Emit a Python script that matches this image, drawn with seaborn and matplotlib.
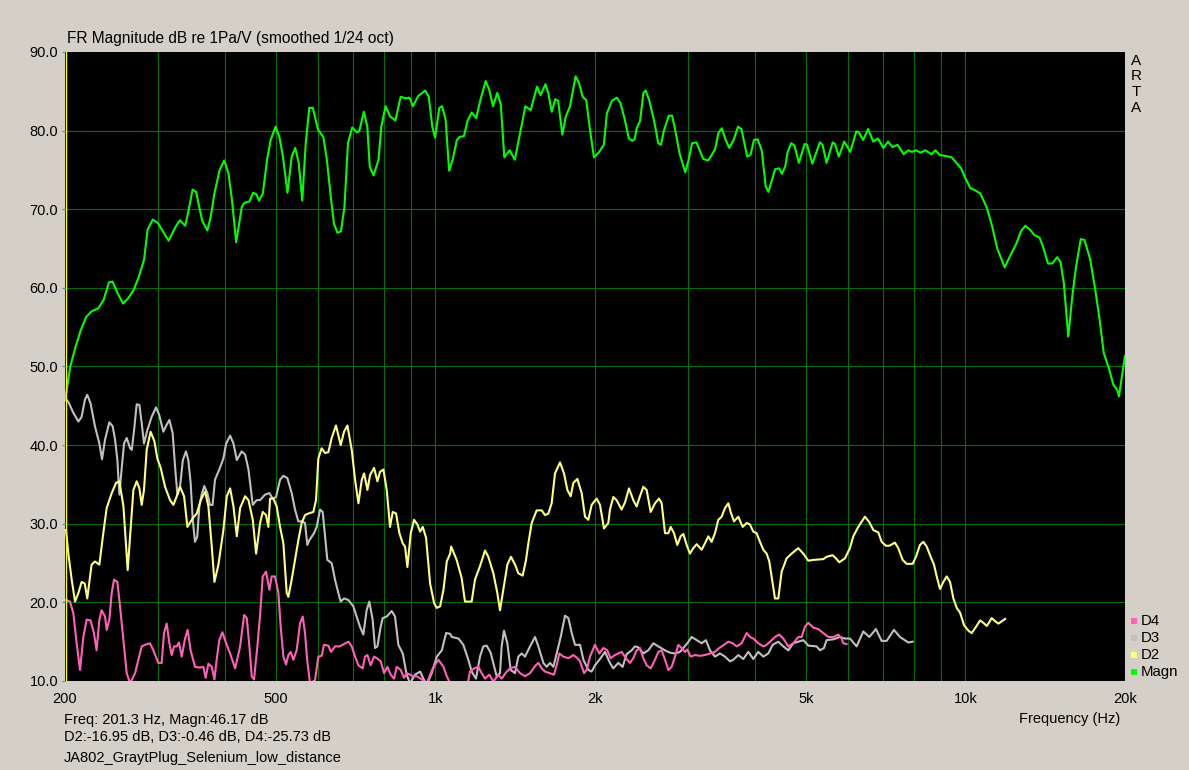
import matplotlib
matplotlib.use('Agg')
import matplotlib.pyplot as plt
from matplotlib.patches import Rectangle
from matplotlib.ticker import FixedLocator, NullFormatter
import seaborn as sns

# ---- data ----
magn_hz = [200, 201.5, 204.6, 209.4, 214.1, 219.3, 224.3, 231.2, 236.6, 242.1, 245.9, 251.5, 257.3, 263.3,
           269.4, 275.6, 282.0, 286.3, 292.9, 299.7, 313.7, 323.5, 329.5, 337.1, 341.3, 348.1, 353.5, 362.8,
           371.2, 376.9, 382.7, 391.6, 399.4, 406.8, 413.1, 420.7, 431.1, 435.7, 445.8, 452.7, 459.6, 464.5,
           472.4, 481.2, 488.6, 499.2, 507.6, 515.4, 525.8, 535.5, 543.8, 552.1, 560.6, 569.2, 578.0, 586.9,
           600.5, 614.4, 623.9, 633.6, 643.3, 653.2, 663.3, 673.4, 683.8, 696.5, 710.4, 718.0, 732.5, 743.7,
           751.6, 764.3, 780.8, 790.4, 805.1, 821.2, 840.2, 859.7, 879.6, 893.1, 906.9, 927.8, 956.6, 971.3,
           986.3, 998.4, 1016.7, 1029.2, 1045.1, 1061.2, 1077.5, 1097.5, 1111, 1131.6, 1149, 1170.1, 1193.7,
           1215.6, 1243.8, 1263, 1284.4, 1308.1, 1328.3, 1348.6, 1379.9, 1411.8, 1444.6, 1478, 1512.3, 1554.6,
           1578.4, 1612.6, 1632.4, 1657.4, 1683.1, 1703.8, 1735.1, 1761.9, 1794.3, 1838.6, 1867.1, 1895.7,
           1924.9, 1960.7, 1990.8, 2037, 2078, 2106, 2153, 2200, 2233, 2273, 2317, 2351, 2376, 2397, 2432,
           2468, 2493, 2530, 2587, 2632, 2664, 2695, 2755, 2796, 2833, 2888, 2960, 3004, 3049, 3108, 3200,
           3271, 3369, 3419, 3469, 3520, 3583, 3652, 3723, 3778, 3874, 3930, 3989, 4054, 4126, 4199, 4249,
           4312, 4376, 4454, 4506, 4572, 4620, 4689, 4758, 4849, 4972, 5024, 5143, 5312, 5375, 5470, 5616,
           5675, 5767, 5904, 6062, 6225, 6288, 6410, 6553, 6699, 6838, 7001, 7146, 7284, 7446, 7644, 7804,
           7920, 8071, 8227, 8399, 8623, 8777, 8946, 9146, 9418, 9557, 9814, 9987, 10210, 10438, 10669,
           10988, 11231, 11482, 11859, 12088, 12449, 12727, 12969, 13241, 13496, 13795, 14000, 14312, 14588,
           14890, 15111, 15333, 15629, 15931, 16168, 16503, 16771, 17197, 17581, 17916, 18237, 18644, 19004,
           19340, 19483, 19773, 19990]
magn_db = [45.7, 47.0, 50.0, 52.5, 54.6, 56.3, 57.0, 57.4, 58.5, 60.7, 60.8, 59.3, 58.0, 58.7,
           59.7, 61.4, 63.6, 67.4, 68.7, 68.2, 66.0, 67.8, 68.6, 67.9, 69.5, 72.5, 72.2, 68.6,
           67.3, 69.1, 72.0, 75.0, 76.2, 74.6, 71.2, 65.8, 70.3, 70.8, 71.0, 72.1, 71.9, 71.1,
           72.0, 76.3, 78.8, 80.5, 79.2, 76.7, 72.1, 76.7, 77.8, 75.9, 71.1, 78.4, 82.9, 82.9,
           80.1, 79.2, 76.3, 72.0, 68.2, 67.0, 67.2, 70.3, 78.4, 80.4, 79.8, 79.9, 82.4, 80.5,
           75.4, 74.3, 76.3, 80.5, 83.1, 81.8, 81.3, 84.3, 84.1, 84.2, 83.1, 84.4, 85.1, 84.3,
           80.5, 79.1, 82.9, 83.1, 81.4, 74.9, 76.3, 78.8, 79.2, 79.3, 81.2, 82.3, 81.6,
           83.9, 86.3, 85.2, 83.1, 84.8, 83.3, 76.6, 77.5, 76.3, 79.7, 83.1, 82.6, 85.6,
           84.5, 85.9, 84.8, 82.4, 84.0, 83.8, 79.5, 81.8, 83.1, 86.9, 86.0, 84.3,
           83.9, 79.7, 76.6, 77.3, 78.2, 82.2, 83.8, 84.2, 83.5, 81.6, 79.0, 78.7, 78.9, 80.3, 81.2,
           84.8, 85.1, 83.9, 81.2, 78.4, 78.2, 79.9, 81.9, 81.9, 80.1, 77.1, 74.7, 76.3, 78.4, 78.5, 76.4,
           76.2, 77.6, 79.7, 80.3, 79.0, 77.8, 78.8, 80.5, 80.2, 76.7, 76.9, 78.8, 78.9, 77.5, 72.9, 72.2,
           73.7, 75.1, 75.2, 74.5, 75.5, 77.3, 78.4, 78.1, 75.9, 78.3, 78.2, 75.8, 78.5, 78.2, 75.9, 78.5,
           78.3, 76.7, 78.6, 77.3, 79.9, 79.8, 78.8, 80.2, 78.6, 79.0, 77.8, 78.6, 77.9, 78.2, 77.0, 77.5,
           77.3, 77.5, 77.2, 77.5, 77.0, 77.5, 76.9, 76.8, 76.6, 76.1, 75.2, 74.0, 72.7, 72.4, 72.0,
           70.1, 67.8, 65.0, 62.6, 63.8, 65.5, 67.2, 67.9, 67.4, 66.7, 66.4, 65.3, 63.1, 63.1,
           63.9, 63.3, 60.6, 53.8, 59.3, 62.7, 66.2, 66.1, 63.6, 59.7, 55.9, 51.7, 49.8, 47.7,
           47.0, 46.2, 49.1, 51.3]

d2_hz = [200.9, 202.9, 205.9, 208.9, 212.0, 215.0, 217.9, 220.3, 224.5, 227.8, 232.2, 236.2, 239.7, 245.0,
         249.7, 253.3, 257.8, 262.6, 266.1, 269.2, 273.1, 276.3, 279.1, 281.9, 285.2, 290.1, 294.9, 298.7,
         303.1, 308.9, 315.7, 320.3, 325.0, 329.7, 335.5, 340.4, 348.4, 354.5, 360.7, 367.6, 372.9, 378.4,
         382.8, 389.5, 398.0, 403.9, 409.8, 415.8, 421.9, 428.0, 437.4, 443.8, 452.2, 458.8, 466.8, 472.2,
         479.0, 483.9, 487.4, 494.5, 501.7, 509.1, 516.5, 524.0, 527.8, 535.5, 543.3, 551.2, 559.2, 567.4,
         575.6, 588.3, 595.1, 601.2, 609.9, 618.9, 627.9, 637.0, 649.2, 662.5, 672.2, 682.1, 695.1, 705.2,
         715.6, 726.1, 733.5, 744.1, 752.8, 765.9, 777.1, 786.1, 797.6, 809.2, 821.0, 830.6, 842.7, 855.0,
         867.5, 876.3, 885.2, 898.2, 911.3, 924.6, 935.4, 946.3, 960.1, 977.0, 994.2, 1005.9, 1020.5,
         1035.4, 1050.5, 1065.8, 1070.5, 1096.5, 1120.5, 1136.9, 1170.3, 1187.5, 1213.5, 1240.3, 1258.2,
         1286.0, 1308.4, 1323.7, 1342.9, 1366.6, 1388.5, 1413.0, 1433.4, 1460.7, 1482.1, 1497.2, 1519.0,
         1552.3, 1586.5, 1609.7, 1632.9, 1656.7, 1681.0, 1718.1, 1748.0, 1773.6, 1799.5, 1820.4, 1852.5,
         1887.4, 1915.0, 1943.0, 1971.3, 2014.5, 2043.9, 2079.7, 2118.9, 2134.3, 2165.4, 2197.1, 2245.1,
         2277.9, 2318.2, 2362.0, 2396.5, 2431.5, 2467.1, 2503.2, 2547.0, 2595.5, 2641.3, 2671.9, 2710.9,
         2750.5, 2778.5, 2819.1, 2859.6, 2901.4, 2935.7, 2978.6, 3021.4, 3065.5, 3110.3, 3179.1, 3224.8,
         3271.9, 3319.7, 3368.2, 3417.4, 3467.3, 3518.0, 3569.4, 3605.8, 3658.5, 3727.4, 3798.4, 3865.4,
         3921.9, 3978.2, 4036.3, 4095.3, 4155.1, 4215.8, 4264.6, 4327.0, 4371.0, 4434.8, 4499.6, 4598.1,
         4699.2, 4836.4, 4943.5, 5051.7, 5162.3, 5391.9, 5470.7, 5614.9, 5697.0, 5780.2, 5924.4, 6054.0,
         6142.5, 6278.3, 6462.0, 6585.2, 6701.4, 6848.2, 6947.8, 7080.2, 7182.0, 7361.2, 7468.8, 7610.8,
         7745.4, 7949.4, 8065.6, 8206.6, 8327, 8449, 8598, 8723, 8826, 8954, 9084, 9217, 9352, 9489,
         9627, 9768, 9939, 10128, 10276, 10472, 10656, 10811, 10970, 11210, 11374, 11541, 11709, 11881]
d2_db = [29.2, 26.2, 22.9, 20.1, 21.2, 22.6, 22.4, 20.5, 24.8, 25.2, 24.8, 28.8, 32.0, 33.9,
         35.2, 35.4, 32.2, 24.1, 29.6, 34.3, 35.4, 34.5, 32.4, 34.3, 39.4, 41.7, 40.5, 38.3,
         37.1, 34.7, 33.0, 32.4, 33.5, 34.7, 33.5, 29.6, 30.7, 31.3, 33.0, 34.1, 32.2, 27.1,
         22.6, 24.8, 29.2, 33.5, 34.5, 32.2, 28.4, 32.0, 33.5, 33.0, 30.5, 26.2, 30.1, 31.5,
         31.1, 29.6, 33.2, 33.2, 32.2, 29.6, 27.5, 21.2, 20.7, 22.9, 25.4, 27.9, 30.1, 31.1,
         31.3, 31.5, 33.0, 38.3, 39.6, 39.0, 39.1, 40.9, 42.5, 40.0, 41.7, 42.5, 39.4, 35.6,
         32.6, 35.6, 36.4, 34.3, 36.2, 37.1, 35.4, 36.6, 36.9, 34.3, 29.6, 31.5, 31.3, 28.8,
         27.5, 27.1, 24.5, 28.8, 30.5, 29.9, 29.0, 29.6, 28.2, 22.4, 19.9, 19.3, 19.5,
         21.6, 25.2, 26.2, 27.1, 25.4, 23.1, 20.1, 20.1, 22.9, 24.6, 26.6, 25.8,
         23.7, 21.2, 19.0, 21.6, 24.8, 25.8, 24.8, 23.7, 23.4, 25.4, 27.5, 30.1,
         31.7, 31.7, 31.1, 31.3, 32.6, 36.4, 37.8, 36.4, 34.3, 33.5, 35.2, 35.7,
         33.9, 30.9, 30.5, 32.4, 33.2, 32.4, 29.4, 30.1, 31.8, 33.4, 33.0, 31.8,
         32.7, 34.5, 33.0, 32.2, 33.5, 34.7, 34.3, 31.5, 32.6, 33.2, 32.6, 28.8,
         28.8, 29.6, 28.8, 27.3, 28.4, 28.7, 27.3, 26.2, 26.9, 27.4, 26.7, 27.5,
         28.4, 27.7, 28.8, 30.5, 30.9, 32.0, 32.6, 31.5, 30.3, 30.9, 29.6, 30.1,
         29.9, 29.0, 28.8, 27.7, 26.7, 26.2, 25.2, 22.4, 20.5, 20.5, 23.9, 25.6,
         26.2, 26.9, 26.2, 25.3, 25.4, 25.5, 25.8, 26.0, 25.6, 25.1, 25.6, 26.9,
         28.4, 29.6, 30.9, 30.2, 29.2, 28.9, 27.7, 27.2, 27.2, 27.6, 26.9, 25.4,
         24.9, 24.9, 25.8, 27.3, 27.7, 27.1, 25.8, 24.8, 23.3, 21.7, 22.6, 23.3, 22.6, 20.5,
         19.3, 18.7, 17.1, 16.4, 16.1, 16.9, 17.7, 17.4, 17.0, 18.0, 17.6, 17.3, 17.6, 17.9]

d3_hz = [200.9, 202.9, 207.4, 212.0, 215.0, 218.1, 220.3, 223.5, 227.8, 232.2, 234.9, 238.0, 242.5, 246.0,
         248.6, 251.1, 253.3, 255.9, 258.5, 261.5, 265.4, 267.3, 270.0, 273.1, 276.3, 279.1, 281.9, 286.0,
         291.4, 297.0, 301.3, 306.6, 311.1, 314.8, 319.3, 322.6, 325.9, 329.7, 333.7, 338.3, 341.7, 345.2,
         348.4, 351.8, 355.3, 358.5, 362.1, 366.3, 371.2, 375.4, 379.8, 383.7, 391.0, 398.0, 402.8, 409.8,
         415.8, 421.9, 430.9, 437.4, 443.8, 452.2, 459.8, 466.8, 476.9, 486.0, 493.1, 500.3, 509.1, 516.5,
         525.6, 535.5, 543.3, 551.2, 559.2, 567.4, 573.1, 578.2, 590.0, 596.9, 605.7, 612.7, 618.9, 625.2,
         637.0, 646.3, 655.8, 662.5, 672.2, 685.1, 699.8, 710.1, 720.4, 731.0, 741.6, 750.3, 761.2, 769.0,
         777.1, 788.3, 795.2, 809.2, 826.8, 838.9, 851.2, 867.5, 882.6, 895.4, 915.1, 935.4, 948.9, 962.8,
         984.0, 1005.9, 1027.9, 1047.5, 1065.8, 1073.6, 1104.9, 1128.8, 1153.6, 1170.3, 1192.6, 1213.5,
         1231.1, 1249.1, 1270.9, 1304.7, 1323.7, 1333.3, 1346.8, 1366.6, 1386.6, 1413.0, 1433.4, 1454.4,
         1475.7, 1508.2, 1541.3, 1563.8, 1598.1, 1621.4, 1645.1, 1669.0, 1693.4, 1723.1, 1755.9, 1781.6,
         1807.6, 1834.0, 1874.2, 1901.6, 1943.0, 1971.3, 2000, 2043.9, 2088.9, 2134.3, 2165.4, 2212.9,
         2255.0, 2294.4, 2344.8, 2379.1, 2413.9, 2467.1, 2521.0, 2576.8, 2633.3, 2710.9, 2770.2, 2831.0,
         2893.3, 2935.7, 2987.2, 3043.9, 3110.3, 3179.1, 3238.9, 3295.6, 3368.2, 3442.2, 3518.0, 3595.0,
         3647.8, 3727.4, 3809.9, 3893.4, 3978.2, 4066.1, 4155.1, 4246.5, 4327.0, 4434.8, 4532.0, 4632.0,
         4733.6, 4836.4, 4943.5, 5051.7, 5237.9, 5314.4, 5408.2, 5470.7, 5631.9, 5797.5, 5924.4, 6054.0,
         6232.2, 6415.4, 6585.2, 6779.2, 6947.8, 7100.5, 7330.0, 7523.8, 7801.9, 7949.4]
d3_db = [45.8, 45.5, 44.1, 43.0, 43.6, 45.8, 46.4, 45.3, 42.4, 40.2, 38.2, 40.7, 42.9, 42.4,
         40.7, 38.1, 33.7, 37.1, 40.2, 40.9, 39.6, 39.4, 41.9, 45.2, 45.1, 42.8, 40.2, 41.9,
         43.6, 44.8, 43.8, 41.7, 42.6, 43.2, 41.5, 37.3, 33.7, 34.7, 38.1, 39.2, 38.1, 35.2,
         30.5, 27.7, 28.4, 32.2, 33.7, 34.8, 33.9, 32.4, 32.4, 35.6, 36.9, 38.3, 40.2, 41.2,
         40.2, 38.1, 39.2, 38.8, 36.9, 32.4, 33.0, 33.0, 33.7, 33.9, 33.2, 33.4, 35.6, 36.1,
         35.8, 33.9, 31.8, 30.3, 30.3, 30.1, 27.3, 27.9, 28.8, 29.6, 31.8, 31.5, 28.4, 25.4,
         25.0, 22.9, 21.2, 20.1, 20.5, 20.3, 19.5, 18.2, 16.9, 15.9, 19.0, 20.1, 17.8, 14.2,
         14.4, 16.9, 18.0, 18.2, 18.9, 18.2, 14.6, 13.5, 10.8, 9.7, 10.8, 11.2, 10.3, 9.5,
         11.0, 13.1, 13.9, 16.1, 16.0, 15.6, 15.4, 14.6, 12.7, 11.2, 10.3, 13.1,
         14.4, 14.5, 13.6, 10.6, 11.0, 14.4, 16.4, 14.8, 11.4, 11.0, 13.1, 13.5,
         13.1, 14.4, 15.6, 14.4, 12.3, 11.8, 12.3, 11.8, 13.5, 15.6, 18.3, 18.0,
         16.1, 14.6, 14.6, 12.7, 11.4, 11.2, 12.0, 12.8, 13.7, 12.3, 11.6, 12.3,
         11.8, 13.4, 13.9, 14.4, 14.3, 13.5, 13.9, 14.8, 14.4, 13.9, 13.6, 13.5,
         13.7, 14.2, 14.8, 15.6, 15.2, 14.8, 15.2, 13.9, 13.1, 13.5, 13.1, 12.5,
         12.7, 13.3, 12.8, 13.7, 12.8, 13.7, 13.1, 13.5, 14.6, 15.0, 14.4, 13.9,
         14.8, 15.0, 15.2, 14.5, 14.4, 13.9, 14.2, 15.2, 15.3, 15.6, 15.4, 15.4,
         14.4, 16.3, 15.6, 16.6, 15.1, 15.1, 16.5, 15.6, 14.9, 15.0]

d4_hz = [200.9, 204.4, 207.4, 210.4, 213.5, 216.6, 219.7, 223.5, 226.8, 229.4, 232.2, 234.5, 238.0, 239.7,
         242.5, 245.0, 247.5, 251.1, 254.0, 258.5, 261.5, 265.4, 271.2, 275.1, 279.1, 283.1, 289.3, 293.6,
         300.0, 304.4, 307.5, 311.1, 314.8, 317.9, 321.2, 325.0, 328.2, 332.1, 336.9, 340.8, 345.2, 351.8,
         359.5, 364.8, 368.5, 372.9, 378.4, 382.8, 386.5, 391.0, 396.3, 402.8, 409.8, 418.8, 428.0, 435.5,
         440.6, 445.6, 450.1, 454.7, 461.3, 466.8, 472.2, 479.0, 486.0, 490.9, 498.1, 505.4, 510.5, 516.5,
         522.5, 527.8, 533.2, 539.3, 547.2, 555.2, 561.7, 567.4, 573.1, 579.9, 592.6, 601.2, 609.9, 616.2,
         627.9, 635.1, 646.3, 658.6, 672.2, 685.1, 695.1, 705.2, 715.6, 728.8, 736.3, 744.1, 754.6, 765.9,
         775.0, 788.3, 800.0, 811.7, 823.4, 835.4, 845.0, 859.8, 872.4, 882.6, 895.4, 908.5, 921.8, 942.0,
         962.8, 988.3, 1012.7, 1035.4, 1050.5, 1065.8, 1080.6, 1145.3, 1162.1, 1182.4, 1205.0, 1222.2,
         1240.3, 1263.8, 1286.0, 1314.1, 1333.3, 1359.0, 1382.5, 1413.0, 1443.9, 1475.7, 1508.2, 1541.3,
         1563.8, 1586.5, 1609.7, 1640.4, 1673.8, 1693.4, 1713.1, 1743.0, 1781.6, 1820.4, 1852.5, 1874.2,
         1907.1, 1928.9, 1957.1, 2000, 2038.2, 2073.9, 2109.6, 2140.6, 2181.0, 2212.9, 2245.1, 2287.9,
         2328.0, 2362.0, 2396.5, 2431.5, 2467.1, 2503.2, 2547.0, 2595.5, 2633.3, 2671.9, 2710.9, 2750.5,
         2790.6, 2831.0, 2872.2, 2913.9, 2956.5, 2987.2, 3030.2, 3088.0, 3155.8, 3224.8, 3295.6, 3368.2,
         3432.3, 3502.6, 3569.4, 3637.1, 3701.2, 3782.2, 3865.4, 3921.9, 3978.2, 4066.1, 4155.1, 4215.8,
         4277.1, 4371.0, 4454.2, 4532.0, 4632.0, 4733.6, 4836.4, 4907.2, 4979.1, 5051.7, 5162.3, 5276.6,
         5391.9, 5510.9, 5631.9, 5755.1, 5839.0, 5881.9, 5967.1]
d4_db = [20.3, 20.1, 18.6, 14.8, 11.4, 15.6, 17.8, 17.7, 16.1, 13.9, 17.8, 19.0, 18.2, 16.5,
         17.8, 21.2, 22.9, 22.6, 19.5, 14.4, 11.0, 9.7, 11.0, 12.7, 14.4, 14.6, 14.8, 13.9,
         12.3, 12.3, 16.1, 17.3, 14.8, 13.3, 14.4, 14.4, 14.9, 13.1, 15.4, 16.5, 13.9, 11.8,
         11.7, 11.8, 10.4, 12.2, 11.8, 10.2, 12.7, 15.2, 16.2, 14.8, 13.5, 11.6, 14.4, 18.4,
         18.0, 14.4, 10.6, 10.2, 14.4, 18.4, 23.3, 23.9, 21.6, 23.3, 23.3, 21.2, 16.9, 13.1,
         12.1, 13.3, 13.7, 12.7, 13.9, 17.3, 18.2, 16.1, 12.5, 9.7, 10.1, 13.1, 13.2, 14.6,
         14.5, 13.7, 14.4, 14.4, 14.7, 15.0, 14.4, 13.1, 12.0, 11.6, 13.1, 13.3, 12.0, 13.1,
         12.9, 12.5, 11.0, 11.8, 10.8, 10.3, 11.8, 11.4, 10.4, 11.0, 10.8, 10.6, 10.6, 10.2,
         9.7, 11.6, 12.7, 11.8, 10.6, 9.7, 9.0, 9.0, 11.2, 11.6, 11.8, 11.0,
         10.3, 10.8, 9.9, 10.8, 10.3, 11.1, 11.6, 11.8, 11.0, 10.6, 11.0, 11.9,
         12.3, 11.6, 11.2, 11.0, 10.8, 12.0, 13.5, 13.1, 12.9, 13.3, 12.9, 12.5,
         11.0, 11.4, 13.1, 14.6, 13.5, 14.2, 13.9, 12.9, 13.3, 13.5, 13.7, 12.9,
         12.3, 12.9, 13.9, 14.2, 12.9, 12.0, 11.6, 12.7, 13.7, 13.9, 12.7, 11.4,
         11.8, 13.1, 14.6, 14.2, 13.7, 14.0, 13.1, 13.3, 13.2, 13.3, 13.5, 13.7,
         14.2, 14.6, 15.0, 14.8, 14.4, 14.8, 16.1, 15.6, 15.4, 14.8, 14.4, 14.6,
         15.0, 15.6, 15.9, 15.4, 14.4, 14.8, 15.6, 15.6, 16.9, 17.4, 16.8, 16.6,
         16.1, 15.6, 15.6, 15.9, 15.4, 14.8, 14.7]

series_names = ['D4', 'D3', 'D2', 'Magn']
series_colors = ['#FF60B8', '#C0C0C0', '#FFFF80', '#00FF00']

major_hz = [200, 500, 1000, 2000, 5000, 10000, 20000]
major_lbl = ['200', '500', '1k', '2k', '5k', '10k', '20k']
grid_hz = [300, 400, 500, 600, 700, 800, 900, 1000, 2000, 3000, 4000, 5000, 6000, 7000, 8000, 9000, 10000]
y_ticks = [10, 20, 30, 40, 50, 60, 70, 80, 90]

cursor_hz = 201.3

# ---- figure ----
W, H = 1189, 770
bg = '#D4D0C8'
grid_col = '#007000'
plt.rcParams['font.family'] = ['Liberation Sans', 'DejaVu Sans']
plt.rcParams['font.size'] = 10.5

fig = plt.figure(figsize=(W / 100, H / 100), dpi=100, facecolor=bg)
ax = fig.add_axes([65 / W, 1 - 681 / H, 1060 / W, 629 / H])
ax.set_facecolor('black')
ax.set_xscale('log')

# grid (inner lines only, like ARTA)
for g in grid_hz:
    ax.axvline(g, color=grid_col, lw=0.8, zorder=0)
for v in y_ticks[1:-1]:
    ax.axhline(v, color=grid_col, lw=0.8, zorder=0)

for hz, db, col in [(d3_hz, d3_db, series_colors[1]),
                    (d2_hz, d2_db, series_colors[2]),
                    (d4_hz, d4_db, series_colors[0]),
                    (magn_hz, magn_db, series_colors[3])]:
    sns.lineplot(x=hz, y=db, ax=ax, color=col, lw=1.5, estimator=None, sort=False)

ax.axvline(cursor_hz, color='#FFFF00', lw=1)

ax.set_xlim(200, 20000)
ax.set_ylim(10, 90)
ax.xaxis.set_major_locator(FixedLocator(major_hz))
ax.set_xticklabels(major_lbl)
ax.xaxis.set_minor_locator(FixedLocator([]))
ax.xaxis.set_minor_formatter(NullFormatter())
ax.set_yticks(y_ticks)
ax.set_yticklabels([f'{v:.1f}' for v in y_ticks])
ax.tick_params(axis='x', which='both', length=0, pad=8)
ax.tick_params(axis='y', length=2, color='#3C8CE6', pad=3)
ax.set_xlabel('')
ax.set_ylabel('')
for s in ax.spines.values():
    s.set_visible(False)


def px(x, y):
    return x / W, 1 - y / H


fig.text(*px(67, 38), 'FR Magnitude dB re 1Pa/V (smoothed 1/24 oct)', va='center', ha='left', fontsize=11.2)
for i, ch in enumerate('ARTA'):
    fig.text(*px(1136, 61 + i * 15.5), ch, va='center', ha='center', fontsize=11)

# legend
for i, (name, col) in enumerate(zip(series_names, series_colors)):
    yy = 621 + i * 17
    fig.patches.append(Rectangle(px(1131, yy + 3), 6 / W, 6 / H, transform=fig.transFigure,
                                 facecolor=col, edgecolor='none'))
    fig.text(*px(1141, yy), name, va='center', ha='left', fontsize=10.8)

fig.text(*px(1120, 719), 'Frequency (Hz)', va='center', ha='right')
fig.text(*px(64, 720), 'Freq: 201.3 Hz, Magn:46.17 dB', va='center', ha='left')
fig.text(*px(64, 737), 'D2:-16.95 dB, D3:-0.46 dB, D4:-25.73 dB', va='center', ha='left')
fig.text(*px(64, 758), 'JA802_GraytPlug_Selenium_low_distance', va='center', ha='left')

fig.savefig('out.png', dpi=100, facecolor=bg)
